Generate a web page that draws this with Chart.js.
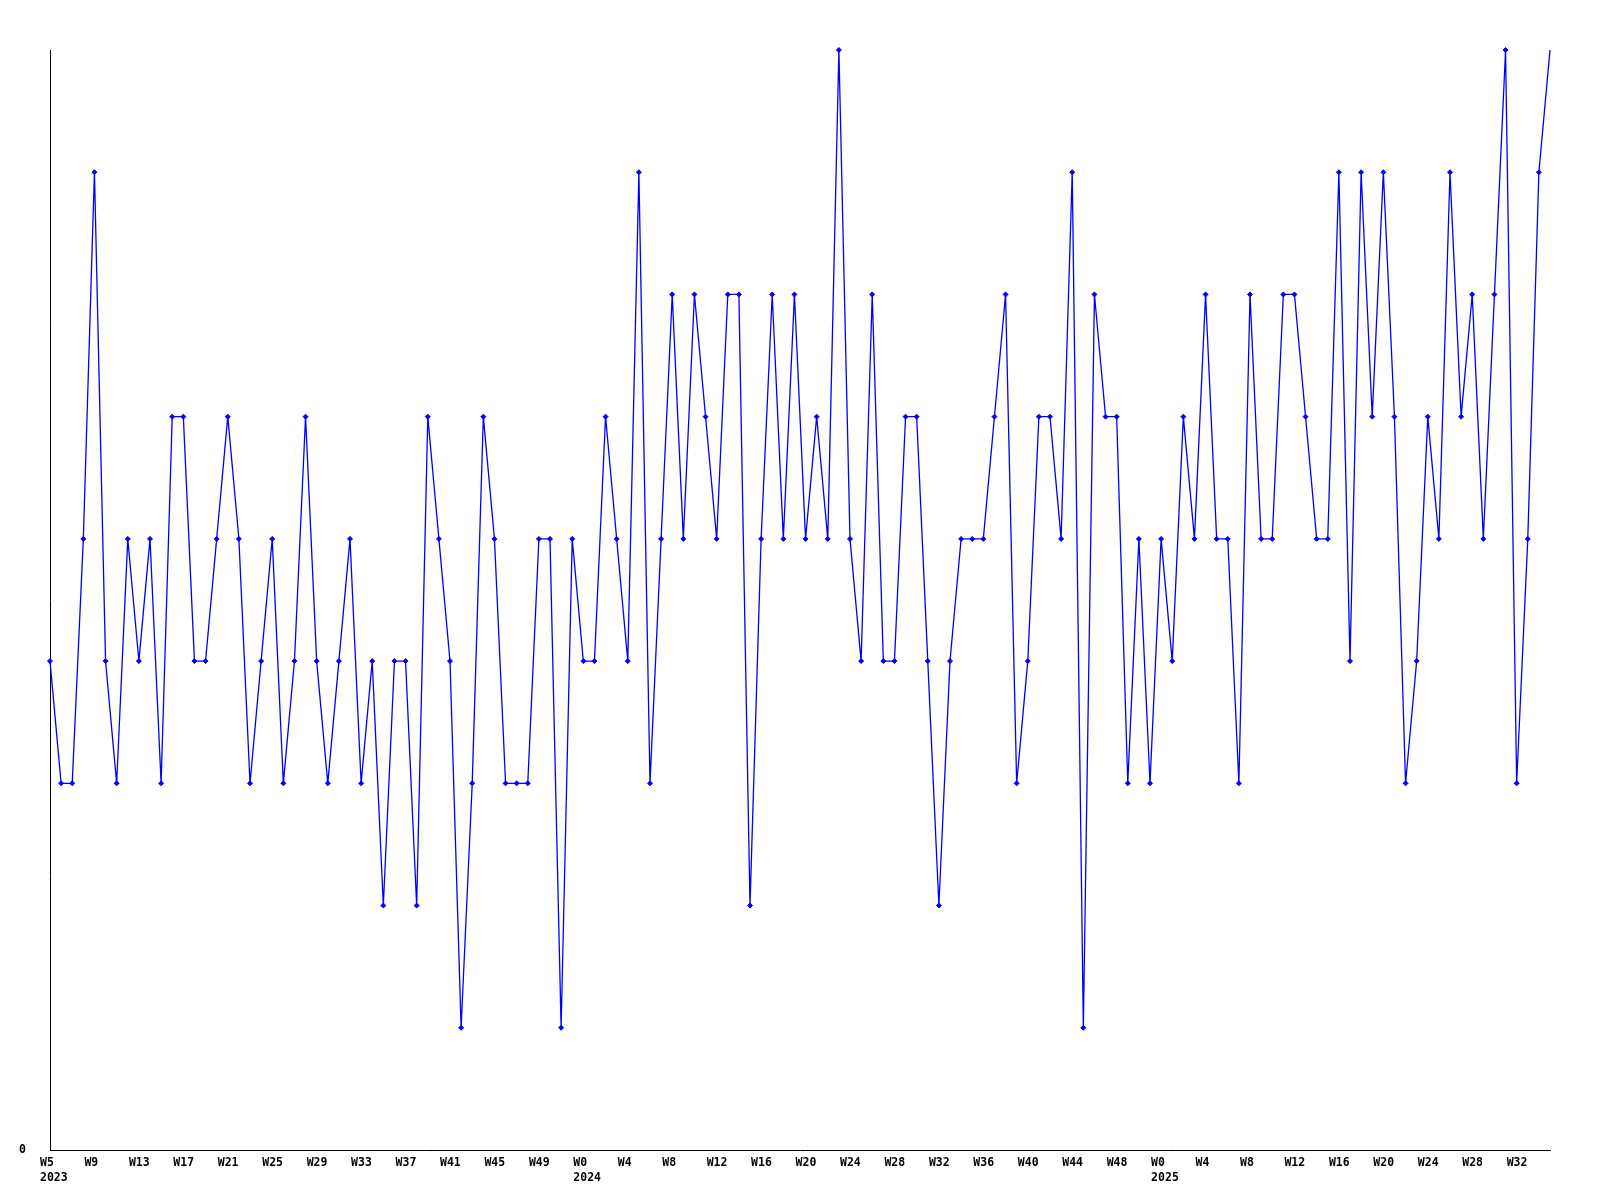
<!DOCTYPE html>
<html>
<head>
<meta charset="utf-8">
<title>Weekly values</title>
<script src="https://cdn.jsdelivr.net/npm/chart.js@4.4.1/dist/chart.umd.min.js"></script>
<style>
    html, body { margin: 0; padding: 0; background: #ffffff; }
    #wrap { width: 1600px; height: 1200px; }
</style>
</head>
<body>
<div id="wrap"><canvas id="weekChart" width="1600" height="1200"></canvas></div>
<script>
// years shown under the first week of each one
const years = ['2023', '2024', '2025'];
// first and last week number of each year in the data
const firstWeeks = [5, 0, 0];
const lastWeeks = [52, 51, 35];

// weekly values
const values2023 = [4, 3, 3, 5, 8, 4, 3, 5, 4, 5, 3, 6, 6, 4, 4, 5, 6, 5, 3, 4, 5, 3, 4, 6,
    4, 3, 4, 5, 3, 4, 2, 4, 4, 2, 6, 5, 4, 1, 3, 6, 5, 3, 3, 3, 5, 5, 1, 5];
const values2024 = [4, 4, 6, 5, 4, 8, 3, 5, 7, 5, 7, 6, 5, 7, 7, 2, 5, 7, 5, 7, 5, 6, 5, 9,
    5, 4, 7, 4, 4, 6, 6, 4, 2, 4, 5, 5, 5, 6, 7, 3, 4, 6, 6, 5, 8, 1, 7, 6, 6, 3, 5, 3];
const values2025 = [5, 4, 6, 5, 7, 5, 5, 3, 7, 5, 5, 7, 7, 6, 5, 5, 8, 4, 8, 6, 8, 6, 3, 4,
    6, 5, 8, 6, 7, 5, 7, 9, 3, 5, 8, 9];

// y axis only shows the zero
const yTickLabels = { 0: '0' };

// build the week categories and remember where each year starts
let weekLabels = [];
let yearStart = {};
years.forEach((year, i) => {
    yearStart[weekLabels.length] = year;
    for (let w = firstWeeks[i]; w <= lastWeeks[i]; w++) {
        weekLabels.push('W' + w);
    }
});
const allValues = values2023.concat(values2024, values2025);

const tickFont = { family: '"DejaVu Sans Mono", monospace', size: 11.5, weight: 'bold', lineHeight: 1.3 };

let ctx = document.getElementById('weekChart').getContext('2d');
window.weekChart = new Chart(ctx, {
    type: 'line',
    data: {
        labels: weekLabels,
        datasets: [{
            data: allValues,
            borderColor: '#0000ff',
            backgroundColor: '#0000ff',
            borderWidth: 1.3,
            tension: 0,
            clip: false,
            pointStyle: 'rectRot',
            pointRadius: allValues.map((v, i) => i === allValues.length - 1 ? 0 : 2.5),
            pointBorderWidth: 1,
            pointBorderColor: '#0000ff',
            pointBackgroundColor: '#0000ff'
        }]
    },
    options: {
        responsive: false,
        animation: false,
        devicePixelRatio: 1,
        layout: { padding: { top: 50, right: 50, left: 0, bottom: 0 } },
        plugins: {
            legend: { display: false },
            tooltip: { enabled: false }
        },
        scales: {
            x: {
                type: 'category',
                offset: false,
                grid: { display: false, drawTicks: false },
                border: { display: true, color: '#000000', width: 1 },
                afterFit: (scale) => { scale.height = 50; },
                ticks: {
                    autoSkip: false,
                    maxRotation: 0,
                    minRotation: 0,
                    align: 'start',
                    labelOffset: -10,
                    padding: 6,
                    color: '#000000',
                    font: tickFont,
                    callback: function (value, index) {
                        if (index % 4 !== 0) return '';
                        const label = weekLabels[index];
                        if (yearStart[index]) return [label, yearStart[index]];
                        return label;
                    }
                }
            },
            y: {
                min: 0,
                max: 9,
                grid: { display: false, drawTicks: false },
                border: { display: true, color: '#000000', width: 1 },
                afterFit: (scale) => { scale.width = 50; },
                ticks: {
                    stepSize: 1,
                    padding: 24,
                    color: '#000000',
                    font: tickFont,
                    callback: function (value) {
                        return yTickLabels[value] !== undefined ? yTickLabels[value] : '';
                    }
                }
            }
        }
    }
});
</script>
</body>
</html>
